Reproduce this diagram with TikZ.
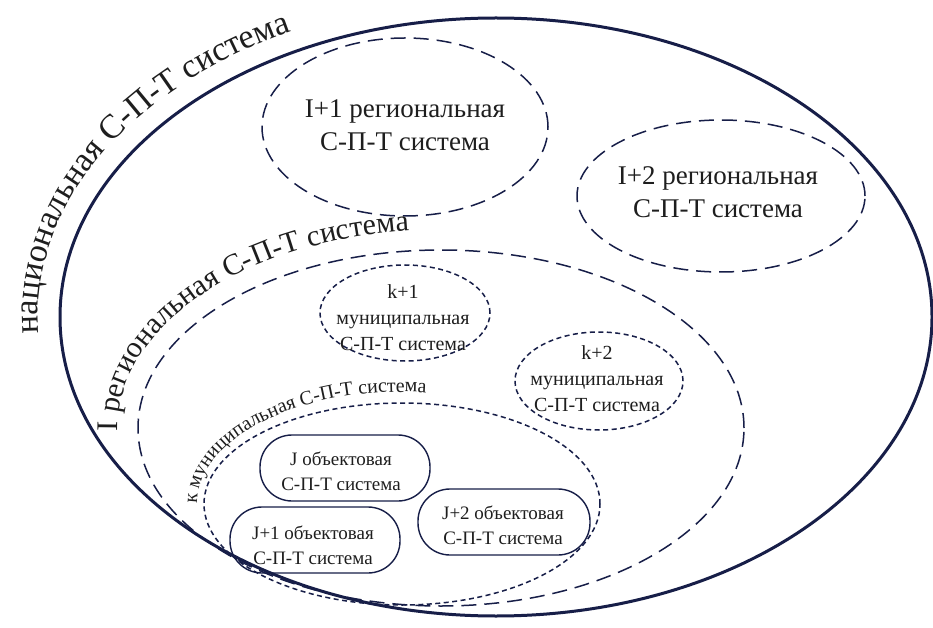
\documentclass[tikz,border=0pt]{standalone}
\usepackage{fontspec}
\setmainfont{Liberation Serif}
\newfontfamily\lserif{Liberation Serif}
\usetikzlibrary{shapes.geometric,decorations.text}
\definecolor{navy}{RGB}{23,30,72}
\definecolor{txt}{RGB}{30,30,30}
\begin{document}
\begin{tikzpicture}[x=1pt,y=1pt,
  outerline/.style={draw=navy,line width=3pt},
  dashline/.style={draw=navy,line width=1.5pt,dash pattern=on 15pt off 8pt},
  dotline/.style={draw=navy,line width=1.5pt,dash pattern=on 5pt off 3.5pt},
  objbox/.style={draw=navy,line width=1.4pt,rounded corners=32pt,minimum width=170pt,minimum height=66pt,inner sep=0pt},
  area/.style={ellipse,inner sep=0pt},
  lbl/.style={align=center,text=txt,inner sep=0pt},
  biglbl/.style={lbl,font=\lserif\fontsize{27}{33}\selectfont},
  midlbl/.style={lbl,font=\lserif\fontsize{20}{26}\selectfont},
  objlbl/.style={lbl,font=\lserif\fontsize{19}{25}\selectfont},
]
\path[use as bounding box,fill=white] (0,0) rectangle (933,627);

% containers
\node[area,outerline,minimum width=872pt,minimum height=598pt] (nat) at (496,310) {};
\node[area,dashline,minimum width=606pt,minimum height=356pt] (regI) at (441,199) {};
\node[area,dashline,minimum width=286pt,minimum height=178pt] (reg1) at (405,500) {};
\node[area,dashline,minimum width=288pt,minimum height=152pt] (reg2) at (721,431) {};
\node[area,dotline,minimum width=396pt,minimum height=202pt] (munk) at (402,123) {};
\node[area,dotline,minimum width=170pt,minimum height=96pt] (mun1) at (405,314) {};
\node[area,dotline,minimum width=168pt,minimum height=98pt] (mun2) at (599,246) {};

% object boxes
\node[objbox] (objJ) at (345,159) {};
\node[objbox] (objJ1) at (315,87) {};
\node[objbox,minimum width=172pt] (objJ2) at (504,105) {};

% labels inside
\node[biglbl] (treg1) at (405,502) {I+1 региональная\\С-П-Т система};
\node[biglbl] (treg2) at (718,435) {I+2 региональная\\С-П-Т система};
\node[midlbl] (tmun1) at (403,309) {k+1\\муниципальная\\С-П-Т система};
\node[midlbl] (tmun2) at (597,248) {k+2\\муниципальная\\С-П-Т система};
\node[objlbl] (tobjJ) at (341,156) {J объектовая\\С-П-Т система};
\node[objlbl] (tobjJ1) at (313,82) {J+1 объектовая\\С-П-Т система};
\node[objlbl] (tobjJ2) at (503,102) {J+2 объектовая\\С-П-Т система};

% curved labels
\path[decorate,decoration={text along path,text align=left,text color=txt,
  text={|\lserif\fontsize{34}{34}\selectfont|национальная С-П-Т система}}]
  ([shift={(496,310)}]183:458pt and 319pt) arc[start angle=183,end angle=60,x radius=458pt,y radius=319pt];
\path[decorate,decoration={text along path,text align=left,text color=txt,
  text={|\lserif\fontsize{30}{30}\selectfont|I региональная С-П-Т система}}]
  ([shift={(441,199)}]181:323pt and 198pt) arc[start angle=181,end angle=50,x radius=323pt,y radius=198pt];
\path[decorate,decoration={text along path,text align=left,text color=txt,
  text={|\lserif\fontsize{20}{20}\selectfont|к муниципальная С-П-Т система}}]
  ([shift={(402,123)}]180:205pt and 112pt) arc[start angle=180,end angle=40,x radius=205pt,y radius=112pt];
\end{tikzpicture}
\end{document}
